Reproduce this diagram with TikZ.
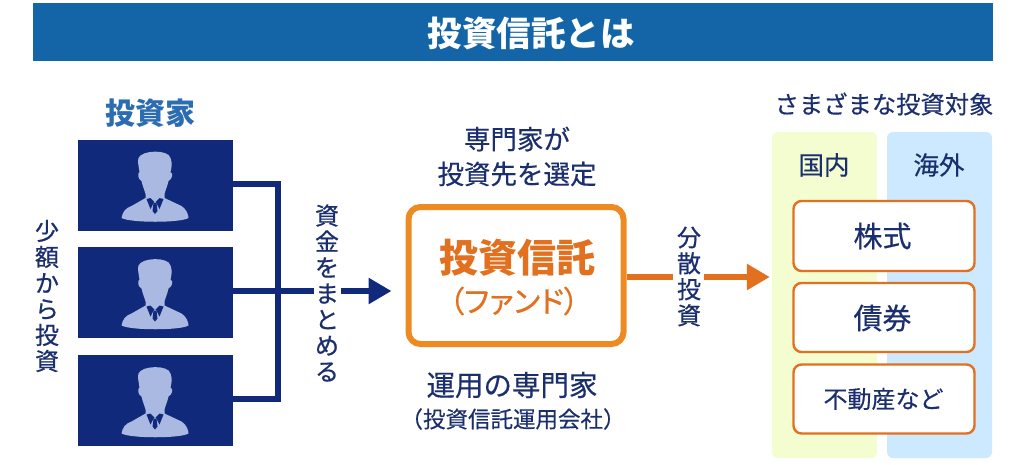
\documentclass[tikz,border=0pt]{standalone}
\usepackage{fontspec}
\setmainfont{Noto Sans CJK JP}
\newfontfamily\jpmed[FakeBold=0.35]{Noto Sans CJK JP}
\newfontfamily\jpvert[FakeBold=0.7]{Noto Sans CJK JP}
\newfontfamily\jppal[FakeBold=0.6,RawFeature=+palt]{Noto Sans CJK JP}
\usetikzlibrary{arrows.meta,positioning}
\definecolor{navy}{HTML}{10297A}
\definecolor{ink}{HTML}{1B2F6E}
\definecolor{hdr}{HTML}{1464A8}
\definecolor{skyb}{HTML}{2B6DB0}
\definecolor{orangeA}{HTML}{EE8A22}
\definecolor{orangeB}{HTML}{E2701E}
\definecolor{panelG}{HTML}{F4FDD0}
\definecolor{panelB}{HTML}{CCE9FF}
\definecolor{personc}{HTML}{A9B9E2}
\newcommand{\fs}[1]{\fontsize{#1}{#1}\selectfont}
\tikzset{
  x=1pt,y=-1pt,
  txt/.style={inner sep=0pt,text=ink,align=center},
  vert/.style={txt,font=\fs{24}\jpvert,text=ink},
  investor/.style={fill=navy,draw=none,minimum width=155pt,minimum height=91pt,inner sep=0pt},
  panel/.style={fill=#1,draw=none,rounded corners=6pt,minimum width=105pt,minimum height=326pt,inner sep=0pt},
  asset/.style={fill=white,draw=orangeB,line width=2.4pt,rounded corners=8pt,minimum width=181pt,inner sep=0pt,text=ink},
  busline/.style={draw=navy,line width=6pt},
  orangeline/.style={draw=orangeB,line width=6pt},
  person/.pic={
    \fill[personc] (-17,-27) .. controls (-14,-35) and (13,-36) .. (15,-27)
      .. controls (17,-22) and (16,-17) .. (15,-13)
      .. controls (18,-12) and (17,-6) .. (13,-4)
      .. controls (12,1) and (10,5) .. (9,9) -- (9,13) -- (26,21)
      .. controls (31,24) and (33,30) .. (33,33)
      .. controls (25,38) and (-25,38) .. (-34,33)
      .. controls (-33,27) and (-30,23) .. (-24,21) -- (-10,13) -- (-10,9)
      .. controls (-11,5) and (-13,1) .. (-14,-4)
      .. controls (-18,-6) and (-18,-12) .. (-16,-13)
      .. controls (-17,-19) and (-18,-24) .. (-17,-27) -- cycle;
    \fill[navy] (-9,14) -- (-5,24) -- (-2,18) -- (-1,17) -- (-5,13) -- cycle;
    \fill[navy] (8,14) -- (4,24) -- (1,18) -- (0,17) -- (4,13) -- cycle;
    \fill[navy] (-2,18) -- (1,18) -- (2,26) -- (-0.5,29) -- (-3,26) -- cycle;
  }
}
\begin{document}
\begin{tikzpicture}
\useasboundingbox (0,0) rectangle (1024,464);
% header
\node[fill=hdr,minimum width=960pt,minimum height=58pt,inner sep=0pt] (header) at (513,32) {};
\node[inner sep=0pt,text=white,font=\fs{34.5}\bfseries] (title) at (531,33) {投資信託とは};
% investors
\node[txt,font=\fs{30}\bfseries,text=skyb] (tinv) at (150,113) {投資家};
\node[investor] (inv1) at (155.5,185) {};
\node[investor] (inv2) at (155.5,292.5) {};
\node[investor] (inv3) at (155.5,400.5) {};
\pic at (inv1.center) {person};
\pic at (inv2.center) {person};
\pic at (inv3.center) {person};
\node[vert] (small) at (47,296) {少\\[2pt]額\\[2pt]か\\[2pt]ら\\[2pt]投\\[2pt]資};
% connectors
\coordinate (bus) at (278,291);
\node[vert] (gather) at (327,293) {資\\[2pt]金\\[2pt]を\\[2pt]ま\\[2pt]と\\[2pt]め\\[2pt]る};
\node[draw=orangeA,line width=6pt,rounded corners=12pt,minimum width=215pt,minimum height=137pt,inner sep=0pt,fill=white] (fund) at (516,275.5) {};
\coordinate (navyTip) at ([xshift=-14pt]fund.west|-bus);
\draw[busline] (inv1.east|-0,184) -| (bus) |- (inv3.east|-0,399);
\draw[busline] (inv2.east|-bus) -- ([xshift=-1pt]gather.west|-bus);
\draw[busline,-{Triangle[length=23pt,width=25pt]}] ([xshift=2pt]gather.east|-bus) -- (navyTip);
% fund text
\node[txt,font=\fs{26.5}\jpmed] (t1) at (517,139) {専門家が};
\node[txt,font=\fs{26.5}\jpmed] (t2) at (517,174) {投資先を選定};
\node[txt,font=\fs{39}\bfseries,text=orangeB] (f1) at (517,258) {投資信託};
\node[txt,font=\fs{30}\jppal,text=orangeB] (f2) at (514,301) {（ファンド）};
\node[txt,font=\fs{28.5}\jpmed] (t3) at (512,385) {運用の専門家};
\node[txt,font=\fs{22.5}\jpmed] (t4) at (513,419) {（投資信託運用会社）};
% right
\node[txt,font=\fs{24.3}\jpmed] (t5) at (884,104) {さまざまな投資対象};
\node[panel=panelG] (pg) at (824.5,295) {};
\node[panel=panelB] (pb) at (939.5,295) {};
\node[txt,font=\fs{25.5}\jpmed] (dom) at (824,165) {国内};
\node[txt,font=\fs{25.5}\jpmed] (ovr) at (939,165) {海外};
\node[asset,minimum height=70pt] (a1) at (884,236) {};
\node[asset,minimum height=69pt] (a2) at (884,317.5) {};
\node[asset,minimum height=69pt] (a3) at (884,399) {};
\node[txt,font=\fs{29}\jpmed] (l1) at (882.5,236) {株式};
\node[txt,font=\fs{29}\jpmed] (l2) at (882.5,318) {債券};
\node[txt,font=\fs{24}\jpmed] (l3) at (883.5,399) {不動産など};
% orange arrow
\node[vert] (dist) at (689,276.5) {分\\[2pt]散\\[2pt]投\\[2pt]資};
\coordinate (orTip) at (pg.west|-0,277);
\draw[orangeline] (fund.east|-0,277) -- ([xshift=-4pt]dist.west|-0,277);
\draw[orangeline,-{Triangle[length=23pt,width=25pt]}] ([xshift=3pt]dist.east|-0,277) -- ([xshift=-2pt]orTip);
\end{tikzpicture}
\end{document}
